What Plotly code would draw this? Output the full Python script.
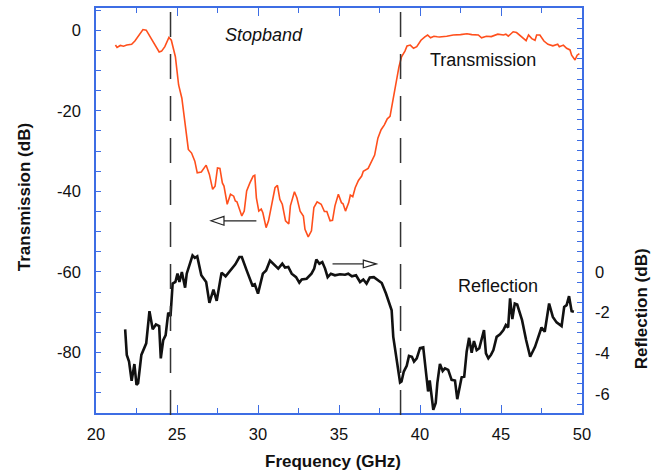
import plotly.graph_objects as go

# Transmission spectrum (dB) vs frequency (GHz)
freq_t = [21.2, 21.3, 21.5, 21.7, 21.9, 22.2, 22.4, 22.7, 22.9, 23.1, 23.3, 23.5, 23.9, 24.05,
          24.25, 24.5, 24.65, 24.9, 25.0, 25.1, 25.3, 25.45, 25.6, 25.7, 25.9, 26.0, 26.1, 26.25,
          26.5, 26.8, 27.0, 27.2, 27.35, 27.5, 27.65, 27.8, 27.9, 28.1, 28.3, 28.5, 28.6, 28.7,
          29.0, 29.15, 29.3, 29.5, 29.7, 29.8, 29.9, 30.05, 30.2, 30.3, 30.5, 30.65, 30.85, 31.05,
          31.2, 31.35, 31.5, 31.7, 31.9, 32.0, 32.25, 32.4, 32.6, 32.8, 32.9, 33.1, 33.3, 33.45,
          33.65, 33.9, 34.1, 34.25, 34.45, 34.6, 34.75, 34.96, 35.15, 35.25, 35.4, 35.6, 35.7,
          35.85, 36.0, 36.2, 36.4, 36.5, 36.8, 37.0, 37.2, 37.4, 37.6, 37.8, 37.98, 38.15, 38.3,
          38.5, 38.7, 38.86, 39.07, 39.2, 39.4, 39.6, 39.8, 40.06, 40.3, 40.47, 40.65, 40.86,
          41.07, 41.2, 41.65, 42.05, 42.5, 42.9, 43.2, 43.6, 43.8, 44.1, 44.4, 44.8, 45.15, 45.3,
          45.45, 45.75, 45.96, 46.2, 46.55, 46.7, 46.9, 47.1, 47.2, 47.4, 47.65, 47.9, 48.2, 48.5,
          48.6, 48.85, 49.05, 49.26, 49.36, 49.57, 49.7, 49.84]
trans_db = [-3.7, -4.3, -3.8, -4.0, -3.7, -3.5, -2.7, -0.8, 0.15, 0.0, -1.4, -2.6, -5.4, -5.2,
            -4.1, -1.8, -2.5, -6.6, -9.5, -13.6, -16.9, -21.8, -27.0, -29.6, -30.5, -31.3, -32.5,
            -35.4, -35.2, -33.5, -35.8, -39.5, -38.7, -34.2, -34.3, -37.9, -38.7, -43.2, -40.7,
            -41.2, -42.4, -42.6, -46.1, -44.9, -39.9, -37.9, -36.2, -36.0, -41.6, -44.9, -44.4,
            -45.3, -49.0, -47.3, -43.6, -39.1, -38.5, -42.0, -43.2, -47.3, -48.1, -43.6, -40.1,
            -41.6, -44.9, -46.1, -49.4, -51.3, -49.8, -44.0, -42.6, -43.2, -45.0, -45.0, -47.3,
            -47.2, -43.6, -40.7, -42.8, -43.1, -44.9, -42.8, -40.9, -41.3, -39.1, -37.3, -36.2,
            -35.0, -34.3, -32.6, -31.0, -26.8, -24.7, -23.5, -22.0, -21.4, -17.7, -13.6, -9.1,
            -6.6, -5.2, -3.9, -3.7, -4.5, -4.1, -2.5, -1.65, -1.2, -1.9, -1.5, -1.65, -1.7, -1.5,
            -1.2, -1.1, -0.9, -1.1, -1.2, -1.9, -1.5, -1.6, -1.0, -1.2, -1.0, -1.5, -0.4, -0.6,
            -1.5, -2.6, -1.2, -2.1, -2.5, -1.2, -1.2, -2.7, -3.5, -3.9, -3.5, -4.1, -3.7, -4.5,
            -4.9, -6.2, -7.4, -6.2, -5.8]

# Reflection spectrum (dB) vs frequency (GHz)
freq_r = [21.8, 21.9, 22.04, 22.2, 22.37, 22.5, 22.6, 22.8, 23.1, 23.3, 23.5, 23.7, 23.9, 24.0,
          24.15, 24.3, 24.46, 24.6, 24.73, 24.9, 25.03, 25.15, 25.3, 25.5, 25.6, 25.8, 25.96,
          26.1, 26.25, 26.5, 26.8, 27.0, 27.25, 27.45, 27.75, 28.0, 28.27, 28.6, 28.85, 29.0,
          29.3, 29.65, 29.8, 30.0, 30.3, 30.5, 30.74, 31.05, 31.25, 31.5, 31.67, 31.87, 32.08,
          32.35, 32.55, 32.7, 33.0, 33.3, 33.47, 33.6, 33.79, 33.97, 34.14, 34.3, 34.5, 34.75,
          35.06, 35.37, 35.57, 35.8, 36.05, 36.3, 36.5, 36.7, 36.9, 37.15, 37.4, 37.64, 37.9,
          38.15, 38.25, 38.35, 38.46, 38.6, 38.77, 38.86, 39.0, 39.18, 39.32, 39.5, 39.63, 39.8,
          40.0, 40.2, 40.37, 40.5, 40.6, 40.82, 40.97, 41.07, 41.23, 41.4, 41.54, 41.74, 41.95,
          42.16, 42.3, 42.47, 42.57, 42.73, 42.88, 43.03, 43.19, 43.33, 43.5, 43.66, 43.8, 43.95,
          44.07, 44.22, 44.38, 44.53, 44.73, 44.94, 45.15, 45.3, 45.44, 45.56, 45.7, 45.85, 46.0,
          46.3, 46.55, 46.8, 47.1, 47.35, 47.5, 47.7, 47.97, 48.2, 48.43, 48.74, 48.9, 49.05,
          49.2, 49.36, 49.5]
refl_db = [-2.82, -4.08, -4.41, -5.36, -4.53, -5.55, -5.47, -4.08, -3.51, -1.93, -2.82, -2.58,
           -2.66, -4.25, -3.35, -3.1, -2.0, -2.17, -0.57, -0.49, -0.08, -0.49, 0.0, -0.77, -0.08,
           0.49, 0.82, 0.7, 0.77, -0.16, -0.49, -1.52, -0.86, -1.42, -0.03, -0.21, 0.05, 0.38,
           0.74, 0.74, 0.08, -0.65, -0.6, -1.06, -0.08, 0.08, 0.57, 0.33, 0.17, 0.41, 0.22, 0.25,
           -0.08, -0.25, -0.52, -0.36, -0.33, -0.08, 0.17, 0.62, 0.41, 0.49, 0.17, -0.25, -0.08,
           -0.16, -0.11, -0.13, -0.08, -0.21, -0.16, -0.49, -0.37, -0.57, -0.27, -0.25, -0.41,
           -0.54, -1.06, -1.72, -1.88, -3.19, -3.84, -4.66, -5.44, -5.39, -4.9, -4.62, -4.13,
           -4.17, -4.41, -4.25, -3.75, -3.71, -5.15, -5.88, -5.34, -6.78, -6.45, -5.47, -4.52,
           -4.87, -4.74, -4.82, -5.31, -5.34, -6.26, -5.64, -5.18, -5.15, -3.92, -3.24, -3.97,
           -3.4, -3.84, -3.75, -3.35, -2.86, -4.0, -4.25, -4.08, -3.84, -3.19, -3.07, -2.86,
           -2.61, -2.73, -1.3, -2.32, -1.55, -1.6, -2.37, -3.35, -4.17, -3.68, -3.02, -2.73,
           -2.94, -1.55, -2.21, -2.48, -2.66, -1.72, -1.63, -1.19, -1.93, -1.96]

# Stopband edges (GHz)
band_edges = [24.6, 38.8]

x_ticks = [20, 25, 30, 35, 40, 45, 50]
t_ticks = [0, -20, -40, -60, -80]
r_ticks = [0, -2, -4, -6]

AXIS_BLUE = "#3d6de4"
ORANGE = "#ff4f1c"
FONT = "Liberation Sans, Arial, sans-serif"


def hyphen_labels(vals):
    # plain hyphen-minus instead of the typographic minus
    return [str(v) for v in vals]


fig = go.Figure()

fig.add_trace(go.Scatter(
    x=freq_t, y=trans_db, mode="lines", name="Transmission",
    line=dict(color=ORANGE, width=1.6), yaxis="y",
))
fig.add_trace(go.Scatter(
    x=freq_r, y=refl_db, mode="lines", name="Reflection",
    line=dict(color="#111111", width=2.6), yaxis="y2",
))

shapes = []
for fe in band_edges:
    shapes.append(dict(
        type="line", xref="x", yref="paper", x0=fe, x1=fe, y0=0.99, y1=-0.005,
        line=dict(color="#333333", width=1.5, dash="25px,17px"),
    ))


def open_arrow(x_start, x_tip, y, head_len=0.8, head_half=1.1):
    """Thin shaft with an open triangular head, in data units of the left axis."""
    direction = 1 if x_tip > x_start else -1
    base = x_tip - direction * head_len
    out = [dict(type="line", xref="x", yref="y", x0=x_start, x1=base, y0=y, y1=y,
                line=dict(color="#222222", width=1.2))]
    path = f"M {x_tip},{y} L {base},{y + head_half} L {base},{y - head_half} Z"
    out.append(dict(type="path", xref="x", yref="y", path=path,
                    fillcolor="white", line=dict(color="#222222", width=1.2)))
    return out


shapes += open_arrow(29.9, 27.1, -47.3)
shapes += open_arrow(34.6, 37.3, -58.0, head_half=0.95)

annotations = [
    dict(text="Stopband", x=30.37, y=-1.2, xref="x", yref="y", showarrow=False,
         font=dict(family=FONT, size=18, color="#111", style="italic")),
    dict(text="Transmission", x=43.9, y=-7.3, xref="x", yref="y", showarrow=False,
         font=dict(family=FONT, size=18, color="#111")),
    dict(text="Reflection", x=44.8, y=-63.4, xref="x", yref="y", showarrow=False,
         font=dict(family=FONT, size=18, color="#111")),
    dict(text="<b>Transmission (dB)</b>", x=-0.148, y=0.533, xref="paper", yref="paper",
         textangle=-90, showarrow=False, xanchor="center", yanchor="middle",
         font=dict(family=FONT, size=17, color="#111")),
    dict(text="<b>Reflection (dB)</b>", x=1.123, y=0.258, xref="paper", yref="paper",
         textangle=-90, showarrow=False, xanchor="center", yanchor="middle",
         font=dict(family=FONT, size=17, color="#111")),
    dict(text="<b>Frequency (GHz)</b>", x=0.488, y=-0.12, xref="paper", yref="paper",
         showarrow=False, xanchor="center", yanchor="middle",
         font=dict(family=FONT, size=17, color="#111")),
]

fig.update_layout(
    width=670, height=474,
    margin=dict(l=96, r=88, t=6, b=61),
    paper_bgcolor="white", plot_bgcolor="white",
    showlegend=False,
    font=dict(family=FONT, size=16.5, color="#111"),
    shapes=shapes,
    annotations=annotations,
    xaxis=dict(
        range=[20, 50], tickvals=x_ticks, ticktext=hyphen_labels(x_ticks),
        ticks="inside", ticklen=8, tickwidth=1.3,
        tickcolor=AXIS_BLUE, showline=True, linecolor=AXIS_BLUE, linewidth=1.6,
        mirror="ticks", showgrid=False, zeroline=False, ticklabelstandoff=5,
        minor=dict(dtick=2.5, tick0=20, ticks="inside", ticklen=5, tickcolor=AXIS_BLUE,
                   tickwidth=1.3, showgrid=False),
    ),
    yaxis=dict(
        range=[-95, 5.5], tickvals=t_ticks, ticktext=hyphen_labels(t_ticks),
        ticks="inside", ticklen=5, tickwidth=1.3,
        tickcolor=AXIS_BLUE, showline=True, linecolor=AXIS_BLUE, linewidth=1.6,
        showgrid=False, zeroline=False, ticklabelstandoff=10,
        minor=dict(dtick=5, tick0=0, ticks="inside", ticklen=5, tickcolor=AXIS_BLUE,
                   tickwidth=1.3, showgrid=False),
    ),
    yaxis2=dict(
        range=[-6.94, 13.0], overlaying="y", side="right", tickvals=r_ticks,
        ticktext=hyphen_labels(r_ticks),
        ticks="inside", ticklen=5, tickwidth=1.3, tickcolor=AXIS_BLUE, showline=True,
        linecolor=AXIS_BLUE, linewidth=1.6, showgrid=False, zeroline=False,
        ticklabelstandoff=8,
        minor=dict(dtick=0.5, tick0=0, ticks="inside", ticklen=5, tickcolor=AXIS_BLUE,
                   tickwidth=1.3, showgrid=False),
    ),
)

fig.write_html("out.html")
